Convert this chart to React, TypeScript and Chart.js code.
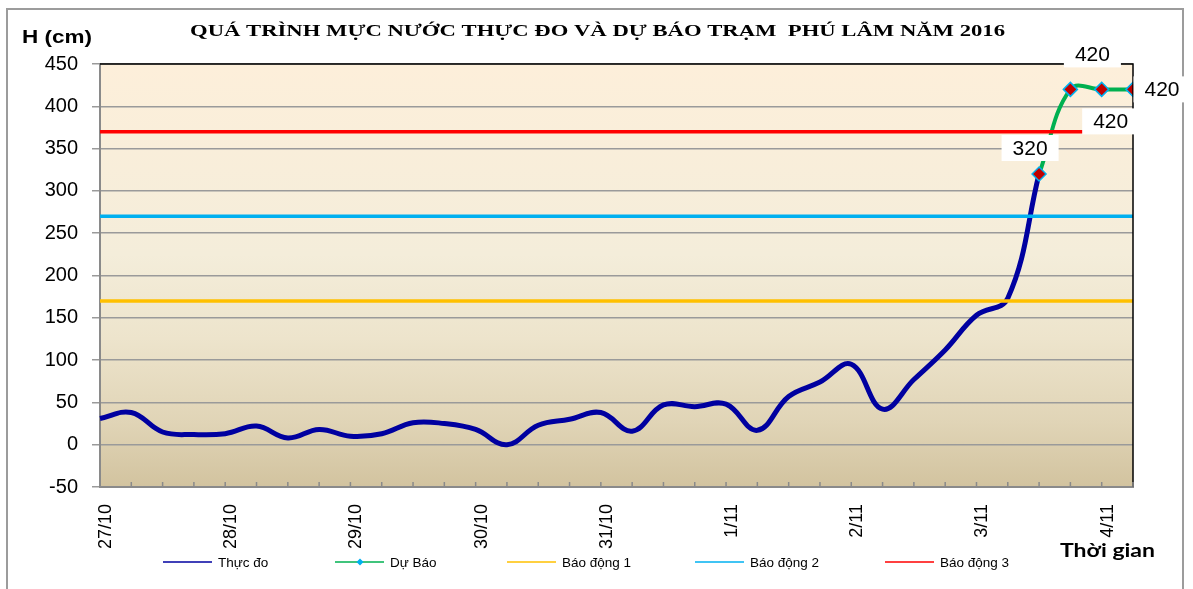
import { useEffect, useRef } from 'react';
import { Chart, registerables } from 'chart.js';

Chart.register(...registerables);

// ---- data ----
const dayLabels = ['27/10', '28/10', '29/10', '30/10', '31/10', '1/11', '2/11', '3/11', '4/11'];
const stepsPerDay = 4; // one reading every 6 hours
const pointCount = 34;
const categories: string[] = Array.from({ length: pointCount }, (_, i) =>
  i % stepsPerDay === 0 ? dayLabels[i / stepsPerDay] ?? '' : ''
);

const measured: (number | null)[] = [
  31, 38, 15, 12, 13, 22, 8, 18, 10, 13, 26, 25, 18, 0, 23, 30, 38, 16, 47, 45,
  48, 17, 57, 74, 95, 42, 77, 112, 153, 173, 320, null, null, null,
];
const forecast: (number | null)[] = [
  null, null, null, null, null, null, null, null, null, null, null, null, null, null, null, null, null, null, null, null,
  null, null, null, null, null, null, null, null, null, null, 320, 420, 420, 420,
];
const alarm1Level = 170;
const alarm2Level = 270;
const alarm3Level = 370;

const yTicks = { min: -50, max: 450, step: 50 };

const titleText = 'QUÁ TRÌNH MỰC NƯỚC THỰC ĐO VÀ DỰ BÁO TRẠM  PHÚ LÂM NĂM 2016';
const yTitle = 'H (cm)';
const xTitle = 'Thời gian';
const seriesNames = ['Thực đo', 'Dự Báo', 'Báo động 1', 'Báo động 2', 'Báo động 3'];

// ---- styles ----
const SANS = '"Liberation Sans", Arial, sans-serif';
const COLORS = {
  measured: '#0000A0',
  forecast: '#00B050',
  alarm1: '#FFC000',
  alarm2: '#00B0F0',
  alarm3: '#FF0000',
};
const legendX = [163, 335, 507, 695, 885];
const labelOffsets = [[-9, -26], [22, -35], [9, 32], [29, 0]];

function drawStretched(ctx: CanvasRenderingContext2D, text: string, left: number, baseline: number, width: number) {
  const w = ctx.measureText(text).width;
  ctx.save();
  ctx.translate(left, baseline);
  ctx.scale(width / w, 1);
  ctx.textAlign = 'left';
  ctx.textBaseline = 'alphabetic';
  ctx.fillText(text, 0, 0);
  ctx.restore();
}

const decor = {
  id: 'decor',
  beforeDraw(chart: any) {
    const { ctx, chartArea: a, width, height } = chart;
    ctx.save();
    ctx.fillStyle = '#ffffff';
    ctx.fillRect(0, 0, width, height);
    ctx.strokeStyle = '#9c9c9c';
    ctx.lineWidth = 2;
    ctx.strokeRect(7, 9, 1176, 600);
    const g = ctx.createLinearGradient(0, a.top, 0, a.bottom);
    g.addColorStop(0, '#FDEFDA');
    g.addColorStop(0.45, '#F4EDDA');
    g.addColorStop(0.65, '#EDE4CC');
    g.addColorStop(0.85, '#E0D4B6');
    g.addColorStop(1, '#D2C39F');
    ctx.fillStyle = g;
    ctx.fillRect(a.left, a.top, a.right - a.left, a.bottom - a.top);
    ctx.restore();
  },
  afterDatasetsDraw(chart: any) {
    const { ctx, chartArea: a, scales } = chart;
    ctx.save();
    // top / right frame
    ctx.strokeStyle = '#000000';
    ctx.lineWidth = 1.5;
    ctx.beginPath();
    ctx.moveTo(a.left, a.top);
    ctx.lineTo(a.right, a.top);
    ctx.lineTo(a.right, a.bottom);
    ctx.stroke();
    // inside tick marks on x axis
    ctx.strokeStyle = '#8a8a8a';
    ctx.lineWidth = 1.5;
    ctx.beginPath();
    for (let i = 0; i < categories.length; i++) {
      const x = scales.x.getPixelForValue(i);
      ctx.moveTo(x, a.bottom);
      ctx.lineTo(x, a.bottom - 5);
    }
    ctx.stroke();
    ctx.restore();
  },
  afterDraw(chart: any) {
    const { ctx } = chart;
    ctx.save();
    // data labels for the forecast
    const meta = chart.getDatasetMeta(1);
    ctx.font = `21px ${SANS}`;
    meta.data.forEach((pt: any, idx: number) => {
      const v = forecast[idx];
      if (v == null) return;
      const k = idx - 30;
      const off = labelOffsets[k] || [0, -25];
      const cx = pt.x + off[0];
      const cy = pt.y + off[1];
      const txt = String(v);
      const w = ctx.measureText(txt).width;
      ctx.fillStyle = '#ffffff';
      ctx.fillRect(cx - w / 2 - 11, cy - 13, w + 22, 26);
      ctx.fillStyle = '#000000';
      ctx.textAlign = 'center';
      ctx.textBaseline = 'middle';
      ctx.fillText(txt, cx, cy + 1);
    });

    // title
    ctx.fillStyle = '#000000';
    ctx.font = `bold 17px "Liberation Serif", "Times New Roman", serif`;
    drawStretched(ctx, titleText, 190, 36, 815);
    // axis titles
    ctx.font = `bold 18px ${SANS}`;
    drawStretched(ctx, yTitle, 22, 43, 70);
    ctx.font = `bold 18px Lato, "Open Sans", sans-serif`;
    drawStretched(ctx, xTitle, 1060, 557, 95);

    // legend
    ctx.font = `13.5px ${SANS}`;
    ctx.textAlign = 'left';
    ctx.textBaseline = 'middle';
    chart.data.datasets.forEach((ds: any, i: number) => {
      const x0 = legendX[i];
      const y = 562;
      ctx.strokeStyle = ds.borderColor;
      ctx.lineWidth = 1.5;
      ctx.beginPath();
      ctx.moveTo(x0, y);
      ctx.lineTo(x0 + 49, y);
      ctx.stroke();
      if (i === 1) {
        ctx.fillStyle = '#00B0F0';
        ctx.beginPath();
        ctx.moveTo(x0 + 25, y - 3.5);
        ctx.lineTo(x0 + 28.5, y);
        ctx.lineTo(x0 + 25, y + 3.5);
        ctx.lineTo(x0 + 21.5, y);
        ctx.closePath();
        ctx.fill();
      }
      ctx.fillStyle = '#000000';
      ctx.fillText(ds.label, x0 + 55, y + 1);
    });
    ctx.restore();
  },
};

export default function App() {
  const ref = useRef<HTMLCanvasElement>(null);
  useEffect(() => {
    const flat = (level: number) => categories.map(() => level);
    const chart = new Chart(ref.current!, {
      type: 'line',
      data: {
        labels: categories,
        datasets: [
          {
            label: seriesNames[0],
            data: measured,
            borderColor: COLORS.measured,
            backgroundColor: COLORS.measured,
            borderWidth: 5,
            pointRadius: 0,
            tension: 0.4,
            order: 2,
          },
          {
            label: seriesNames[1],
            data: forecast,
            borderColor: COLORS.forecast,
            backgroundColor: '#C00000',
            borderWidth: 4,
            pointStyle: 'rectRot',
            pointRadius: 7,
            pointBorderColor: '#00B0F0',
            pointBackgroundColor: '#C00000',
            pointBorderWidth: 1.5,
            tension: 0.4,
            order: 1,
          },
          {
            label: seriesNames[2],
            data: flat(alarm1Level),
            borderColor: COLORS.alarm1,
            borderWidth: 3.5,
            pointRadius: 0,
            order: 0,
          },
          {
            label: seriesNames[3],
            data: flat(alarm2Level),
            borderColor: COLORS.alarm2,
            borderWidth: 3.5,
            pointRadius: 0,
            order: 0,
          },
          {
            label: seriesNames[4],
            data: flat(alarm3Level),
            borderColor: COLORS.alarm3,
            borderWidth: 3.5,
            pointRadius: 0,
            order: 0,
          },
        ],
      },
      options: {
        responsive: false,
        animation: false,
        layout: { padding: { top: 64, right: 60, left: 0, bottom: 0 } },
        plugins: {
          legend: { display: false },
          title: { display: false },
          tooltip: { enabled: false },
        },
        scales: {
          x: {
            type: 'category',
            offset: false,
            grid: { display: false },
            border: { display: true, color: '#8a8a8a', width: 2 },
            ticks: {
              autoSkip: false,
              minRotation: 90,
              maxRotation: 90,
              padding: 9,
              labelOffset: 6,
              color: '#000000',
              font: { family: SANS, size: 18 },
              callback: (_v: any, i: number) => categories[i],
            },
            afterFit: (s: any) => {
              s.height = 102;
            },
          },
          y: {
            min: yTicks.min,
            max: yTicks.max,
            grid: { color: '#9a9a9a', lineWidth: 1.5, tickLength: 8 },
            border: { display: true, color: '#8a8a8a', width: 2 },
            ticks: {
              stepSize: yTicks.step,
              padding: 14,
              color: '#000000',
              font: { family: SANS, size: 20 },
            },
            afterFit: (s: any) => {
              s.width = 100;
            },
          },
        },
      },
      plugins: [decor],
    } as any);
    return () => chart.destroy();
  }, []);
  return (
    <div style={{ position: 'fixed', left: 0, top: 0, width: 1193, height: 589 }}>
      <canvas ref={ref} width={1193} height={589} style={{ display: 'block' }} />
    </div>
  );
}
